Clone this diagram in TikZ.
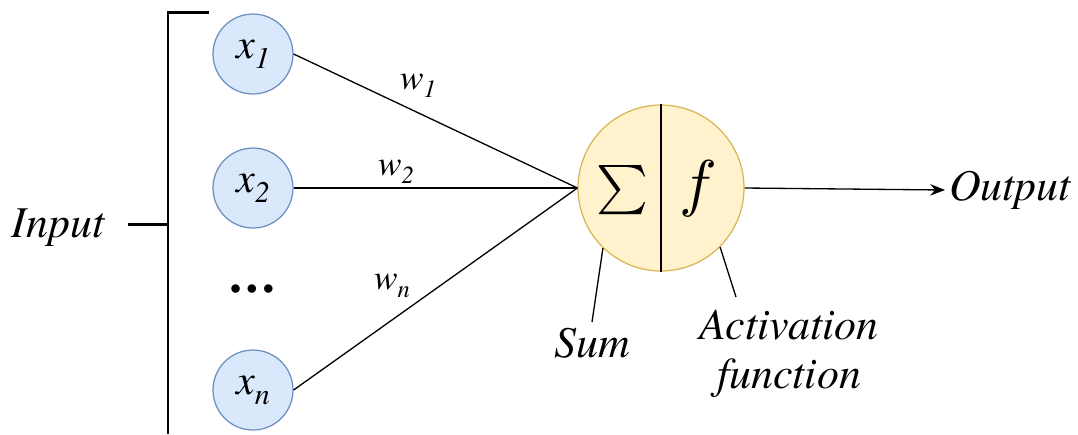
\documentclass[tikz,border=0pt]{standalone}
\usepackage{fontspec}
\setmainfont{texgyretermes}[Extension=.otf, UprightFont=*-regular, ItalicFont=*-italic, BoldFont=*-bold]
\newfontfamily\timesfont{texgyretermes}[Extension=.otf, UprightFont=*-regular, ItalicFont=*-italic, BoldFont=*-bold]
\usepackage{graphicx}
\usepackage{tikz}
\usetikzlibrary{arrows.meta,positioning}
\definecolor{inputfill}{HTML}{DAE8FC}
\definecolor{inputdraw}{HTML}{6C8EBF}
\definecolor{bodyfill}{HTML}{FFF2CC}
\definecolor{bodydraw}{HTML}{D6B656}
\newcommand{\lowidx}[2]{\raisebox{-0.55ex}{\fontsize{#1}{#1}\selectfont #2}}
\tikzset{
  neuron-input/.style={circle, draw=inputdraw, fill=inputfill, line width=0.7pt, minimum size=1.6cm, inner sep=0pt,
    font=\timesfont\fontsize{24}{26}\selectfont\itshape},
  neuron-body/.style={circle, draw=bodydraw, fill=bodyfill, line width=0.7pt, minimum size=3.32cm, inner sep=0pt},
  neuron-link/.style={draw=black, line width=0.75pt},
  neuron-bracket/.style={draw=black, line width=1.7pt},
  neuron-weight/.style={font=\timesfont\fontsize{20}{22}\selectfont\itshape, inner sep=1pt},
  neuron-label/.style={font=\timesfont\fontsize{25}{28}\selectfont\itshape, align=center, inner sep=2pt}
}

\begin{document}
\begin{tikzpicture}[x=0.02cm, y=-0.02cm, >={Stealth[length=8.5pt, width=6.5pt]}]
  \useasboundingbox (0,0) rectangle (1078,434);
  \node[neuron-input] (x1) at (253,54) {x\lowidx{17}{1}};
  \node[neuron-input] (x2) at (253,188) {x\lowidx{17}{2}};
  \node[neuron-input] (xn) at (253,390) {x\lowidx{17}{n}};
  \node[font=\timesfont\fontsize{18}{18}\selectfont] (dots) at (252,292) {\textbullet\,\textbullet\,\textbullet};
  \coordinate (bracket-top) at (209,12);
  \coordinate (bracket-corner) at (168,12);
  \coordinate (bracket-bottom) at (168,434);
  \coordinate (bracket-mid) at (168,224);
  \coordinate (bracket-tick) at (128,224);
  \node[neuron-label] (input) at (58,228) {Input};
  \draw[neuron-bracket] (bracket-top) -- (bracket-corner) -- (bracket-bottom);
  \draw[neuron-bracket] (bracket-tick) -- (bracket-mid);
  \node[neuron-body] (neuron) at (661,188) {};
  \draw[neuron-link] (neuron.north) -- (neuron.south);
  \node (sum-sign) at (622,190) {\scalebox{2.8}{$\sum$}};
  \node (act-sign) at (698,189) {\scalebox{3.6}{$f$}};
  \draw[neuron-link] (x1.east) -- (neuron.west);
  \draw[neuron-link] (x2.east) -- (neuron.west);
  \draw[neuron-link] (xn.east) -- (neuron.west);
  \node[neuron-weight] (w1) at (418,86) {w\lowidx{14}{1}};
  \node[neuron-weight] (w2) at (396,172) {w\lowidx{14}{2}};
  \node[neuron-weight] (wn) at (392,286) {w\lowidx{14}{n}};
  \node[neuron-label] (output) at (1010,190) {Output};
  \draw[neuron-link, ->] (neuron.east) -- (output.west);
  \coordinate (sum-end) at (592,322);
  \coordinate (act-end) at (736,297);
  \node[neuron-label] (sum) at (592,343) {Sum};
  \node[neuron-label] (activation) at (789,354) {Activation\\function};
  \draw[neuron-link] (neuron.226) -- (sum-end);
  \draw[neuron-link] (neuron.-45) -- (act-end);
\end{tikzpicture}
\end{document}
